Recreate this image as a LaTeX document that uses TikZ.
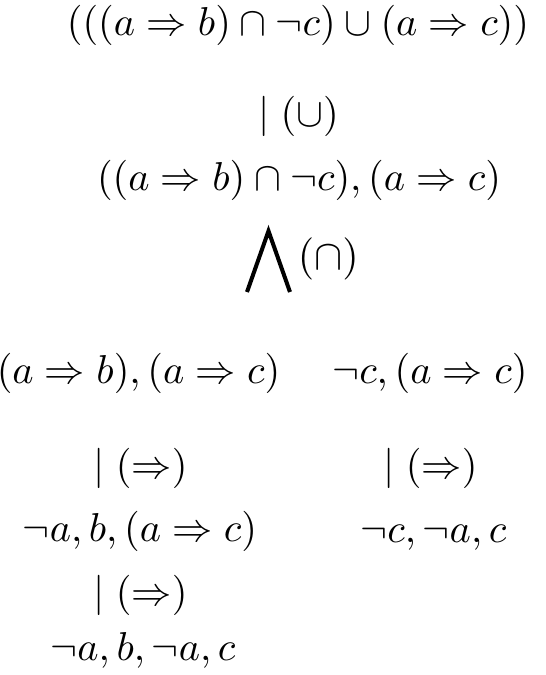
\documentclass[tikz,border=0pt]{standalone}
\usepackage{amsmath, amssymb}
\usepackage{tikz}
\usetikzlibrary{positioning}

\begin{document}
\begin{tikzpicture}[x=0.248pt, y=-0.248pt,
    seq/.style={anchor=base, inner sep=0pt},
    rulelbl/.style={anchor=base, inner sep=0pt}]
        % Tableau for ((a => b) n -c) u (a => c)
        \useasboundingbox (0,0) rectangle (546,675);
        \node[seq] (root) at (298, 35) {$(((a \Rightarrow b) \cap \neg c) \cup (a \Rightarrow c))$};
        \node[rulelbl] (rCup) at (298.5, 126) {$\mid (\cup)$};
        \node[seq] (n1) at (299, 190) {$((a \Rightarrow b) \cap \neg c), (a \Rightarrow c)$};

        % branching
        \draw[line width=1pt, line join=miter] (247, 292) -- (268.5, 231) -- (290, 292);
        \node[anchor=west, inner sep=0pt] (rCap) at (297, 259) {\scalebox{1.05}{$(\cap)$}};

        \node[seq] (left) at (138.5, 383) {$(a \Rightarrow b), (a \Rightarrow c)$};
        \node[seq] (right) at (430, 383) {$\neg c, (a \Rightarrow c)$};

        \node[rulelbl] (rImpL) at (140.5, 478) {$\mid (\Rightarrow)$};
        \node[rulelbl] (rImpR) at (430.5, 478) {$\mid (\Rightarrow)$};

        \node[seq] (left2) at (140, 541) {$\neg a, b, (a \Rightarrow c)$};
        \node[seq] (right2) at (433.5, 542) {$\neg c, \neg a, c$};

        \node[rulelbl] (rImpL2) at (140.5, 605) {$\mid (\Rightarrow)$};
        \node[seq] (left3) at (143, 660) {$\neg a, b, \neg a, c$};
    \end{tikzpicture}
\end{document}
